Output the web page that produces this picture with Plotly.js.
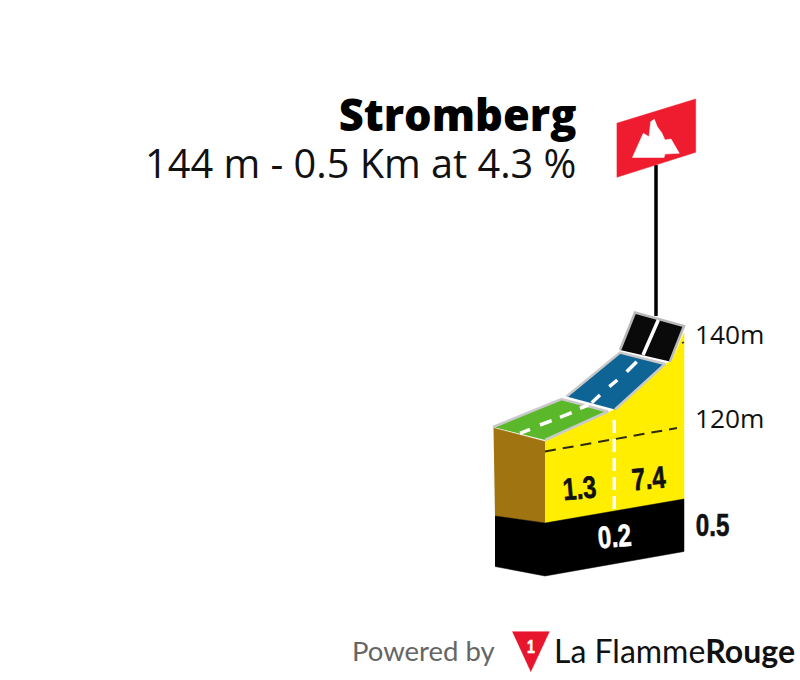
<!DOCTYPE html>
<html>
<head>
<meta charset="utf-8">
<script src="https://cdn.plot.ly/plotly-3.0.1.min.js"></script>
<style>html,body{margin:0;padding:0;background:#fff}#chart{width:800px;height:680px}</style>
</head>
<body>
<div id="chart"></div>
<script>
// Shapes of the profile (picture units)
const brownX = [493.5, 545, 545, 495];
const brownY = [428, 441.5, 523, 516];
const yellowX = [545, 613.5, 665, 671.5, 684, 684, 545];
const yellowY = [441.5, 410, 364, 361.5, 333, 499, 523];
const baseX = [495, 545, 684, 684, 545, 495];
const baseY = [516, 523, 499, 551.5, 576, 566.5];
const greenX = [493, 561.5, 608, 545];
const greenY = [427, 399, 411.5, 440];
const blueX = [566.5, 620, 665, 615];
const blueY = [396.5, 352.5, 364, 409.5];
const topX = [620, 635, 684, 670];
const topY = [350, 312.5, 326, 361.5];
const roadDashX = [520,530,null,540,551.7,null,560,571.7,null,580,588.3,null,591.7,600,null,609.3,617.3,null,626.7,636.7];
const roadDashY = [433.3,429.3,null,425,420.7,null,417.3,412.7,null,408.3,405,null,402.7,395,null,386.7,380,null,371.7,361.7];
const roadSolidX = [643, 658.3];
const roadSolidY = [355, 320];
const splitX = [614.3, 614.3];
const splitY = [420, 512];
const level120X = [545, 677];
const level120Y = [451.5, 428];
const level140X = [682, 684];
const level140Y = [343, 342.3];
const poleX = [656, 656];
const poleY = [165, 316];
const flagX = [616.7, 695.7, 695.7, 616.7];
const flagY = [123.3, 99, 152.3, 177.3];
const peakX = [632.3,638.3,643.3,649,650.7,654.3,657.3,661.7,665,671,679.3,665,664];
const peakY = [157.7,145,133.3,136.7,121.7,119.3,126.7,132.7,140,139,153.3,154,157.7];
const logoX = [512.3, 549.3, 530.7];
const logoY = [631.7, 631.7, 671.7];

// Text
const climbName = 'Stromberg';
const climbFacts = '144 m - 0.5 Km at 4.3 %';
const altitudeLabels = ['140m', '120m'];
const gradientLabels = ['1.3', '7.4'];
const baseLabel = '0.2';
const endLabel = '0.5';
const poweredBy = 'Powered by';
const brand = 'La Flamme<b>Rouge</b>';

const poly = (x, y, fill, line, w) => ({
  x, y, type: 'scatter', mode: 'lines', fill: 'toself', fillcolor: fill,
  line: {color: line || fill, width: w === undefined ? 0.5 : w},
  hoverinfo: 'skip', showlegend: false
});
const stroke = (x, y, color, width, dash) => ({
  x, y, type: 'scatter', mode: 'lines',
  line: {color, width, dash: dash || 'solid'},
  connectgaps: false, hoverinfo: 'skip', showlegend: false
});

const traces = [
  stroke(poleX, poleY, '#000000', 3.5),
  poly(brownX, brownY, '#a07410'),
  poly(yellowX, yellowY, '#ffee00'),
  stroke(level120X, level120Y, '#2b2b10', 2, '11px,7px'),
  stroke(level140X, level140Y, '#2b2b10', 1.6),
  stroke(splitX, splitY, '#ffffff', 3.5, '13px,6px'),
  poly(baseX, baseY, '#000000'),
  poly(greenX, greenY, '#5bb82a', '#c9c9c9', 2.5),
  poly(blueX, blueY, '#0f6496', '#c9c9c9', 2.5),
  poly(topX, topY, '#0a0a0a', '#b9b9b9', 2.5),
  stroke(roadDashX, roadDashY, '#ffffff', 3.5),
  stroke(roadSolidX, roadSolidY, '#ffffff', 3.5),
  poly(flagX, flagY, '#ee1c2e'),
  poly(peakX, peakY, '#ffffff'),
  poly(logoX, logoY, '#e8152f')
];

const sans = 'Open Sans, sans-serif';
const heavy = 'Liberation Sans, sans-serif';
const note = (text, x, y, size, family, color, anchor, angle, weight) => ({
  text, x, y, xref: 'x', yref: 'y', showarrow: false,
  xanchor: anchor || 'center', yanchor: 'middle', textangle: angle || 0,
  font: {size, family, color: color || '#111111', weight: weight || 400}
});

const heading = '<span style="font-size:43.4px;font-weight:800;fill:#000000">' + climbName + '</span><br>' +
  '<span style="font-size:39.7px">' + climbFacts + '</span>';

const layout = {
  width: 800, height: 680,
  margin: {l: 0, r: 0, t: 0, b: 0},
  paper_bgcolor: '#ffffff', plot_bgcolor: '#ffffff',
  showlegend: false, hovermode: false,
  xaxis: {range: [0, 800], visible: false, fixedrange: true},
  yaxis: {range: [680, 0], visible: false, fixedrange: true},
  annotations: [
    Object.assign(note(heading, 578, 137, 36.5, sans, '#111111', 'right'), {align: 'right'}),
    note(altitudeLabels[0], 693, 334, 26.3, sans, '#111111', 'left'),
    note(altitudeLabels[1], 693, 418, 26.3, sans, '#111111', 'left'),
    note(gradientLabels[0], 579, 488, 31, heavy, '#111111', 'center', -5, 700),
    note(gradientLabels[1], 649, 478, 31, heavy, '#111111', 'center', -5, 700),
    note(baseLabel, 614.5, 536, 31, heavy, '#ffffff', 'center', -5, 700),
    note(endLabel, 712.5, 525, 31, heavy, '#111111', 'center', 0, 700),
    note('1', 530.5, 647, 18, heavy, '#ffffff', 'center', 0, 700),
    note(poweredBy, 350, 650, 27.5, 'Lato, sans-serif', '#666666', 'left'),
    note(brand, 552, 650, 32, 'Lato, sans-serif', '#111111', 'left')
  ]
};

Plotly.newPlot('chart', traces, layout, {displayModeBar: false, staticPlot: true}).then(() => {
  // No condensed bold face is installed: narrow the small labels in place.
  const condensed = [gradientLabels[0], gradientLabels[1], baseLabel, endLabel, '1'];
  document.querySelectorAll('#chart .annotation-text').forEach(t => {
    if (condensed.includes(t.textContent)) {
      t.style.transformBox = 'fill-box';
      t.style.transformOrigin = 'center';
      t.style.transform = 'scaleX(0.78)';
      t.style.stroke = t.style.fill;
      t.style.strokeWidth = '0.6px';
    }
  });
});
</script>
</body>
</html>
